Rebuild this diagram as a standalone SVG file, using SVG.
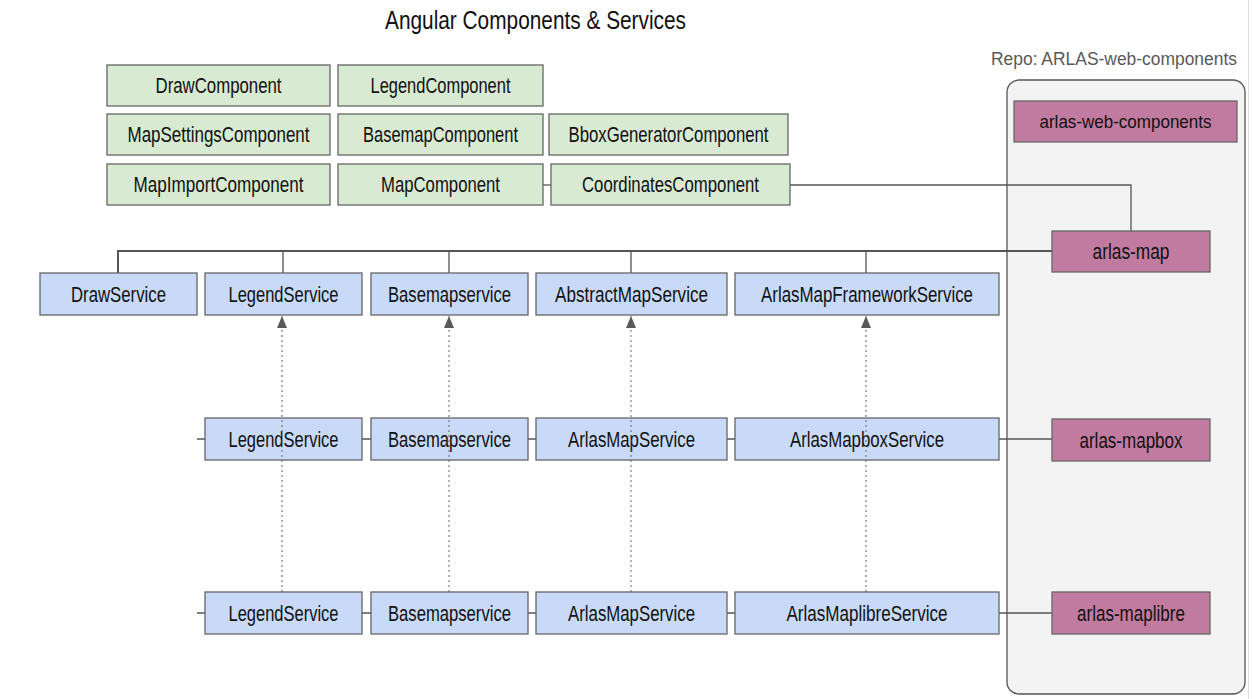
<svg xmlns="http://www.w3.org/2000/svg" width="1252" height="699" viewBox="0 0 1252 699">
<defs>
<style>
text{font-family:"Liberation Sans","Roboto",sans-serif;text-anchor:middle;dominant-baseline:central;fill:#111;font-size:22px}
.g rect{fill:#d9ead3;stroke:#666;stroke-width:1.3}
.b rect{fill:#c9daf8;stroke:#666;stroke-width:1.3}
.p rect{fill:#c27ba0;stroke:#666;stroke-width:1.3}
.ln{fill:none;stroke:#555;stroke-width:1.3}
.dot{fill:none;stroke:#666;stroke-width:1;stroke-dasharray:2,3}
</style>
<marker id="ah" viewBox="0 0 12 10" refX="12" refY="5" markerWidth="12" markerHeight="10" markerUnits="userSpaceOnUse" orient="auto">
<path d="M0,0 L12,5 L0,10 Z" fill="#595959"/>
</marker>
</defs>
<rect width="1252" height="699" fill="#fff"/>
<line x1="1248.5" y1="0" x2="1248.5" y2="699" stroke="#ddd" stroke-width="1"/>
<text x="535.5" y="20" style="font-size:26px" textLength="301" lengthAdjust="spacingAndGlyphs">Angular Components &amp; Services</text>

<g id="repo">
<rect x="1007" y="80" width="238" height="614" rx="12" fill="#f3f3f3" stroke="#555" stroke-width="1.3"/>
<text x="1114" y="59" style="fill:#595959;font-size:18px" textLength="246" lengthAdjust="spacingAndGlyphs">Repo: ARLAS-web-components</text>
</g>

<g id="connectors">
<path class="ln" d="M790,185 H1131 V231"/>
<path class="ln" d="M543,185 H551"/>
<path class="ln" d="M118,273 V251 H1052" style="stroke-width:2"/>
<path class="ln" d="M283,251 V273 M449,251 V273 M631,251 V273 M866,251 V273"/>
<path class="ln" d="M197,439 H205 M362,439 H371 M528,439 H536 M727,439 H735 M999,439 H1052"/>
<path class="ln" d="M197,613 H205 M362,613 H371 M528,613 H536 M727,613 H735 M999,613 H1052"/>
</g>

<g class="g">
<g id="drawComponent"><rect x="107" y="65" width="223" height="41"/><text x="218.5" y="85.5" textLength="126" lengthAdjust="spacingAndGlyphs">DrawComponent</text></g>
<g id="legendComponent"><rect x="338" y="65" width="205" height="41"/><text x="440.5" y="85.5" textLength="140" lengthAdjust="spacingAndGlyphs">LegendComponent</text></g>
<g id="mapSettingsComponent"><rect x="107" y="114" width="223" height="41"/><text x="218.5" y="134.5" textLength="182" lengthAdjust="spacingAndGlyphs">MapSettingsComponent</text></g>
<g id="basemapComponent"><rect x="338" y="114" width="205" height="41"/><text x="440.5" y="134.5" textLength="155" lengthAdjust="spacingAndGlyphs">BasemapComponent</text></g>
<g id="bboxGeneratorComponent"><rect x="549" y="114" width="239" height="41"/><text x="668.5" y="134.5" textLength="200" lengthAdjust="spacingAndGlyphs">BboxGeneratorComponent</text></g>
<g id="mapImportComponent"><rect x="107" y="164" width="223" height="41"/><text x="218.5" y="184.5" textLength="170" lengthAdjust="spacingAndGlyphs">MapImportComponent</text></g>
<g id="mapComponent"><rect x="338" y="164" width="205" height="41"/><text x="440.5" y="184.5" textLength="119" lengthAdjust="spacingAndGlyphs">MapComponent</text></g>
<g id="coordinatesComponent"><rect x="551" y="164" width="239" height="41"/><text x="670.5" y="184.5" textLength="177" lengthAdjust="spacingAndGlyphs">CoordinatesComponent</text></g>
</g>

<g class="p">
<g id="arlasWebComponents"><rect x="1014" y="101" width="223" height="41"/><text x="1125.5" y="121.5" style="font-size:19px" textLength="172" lengthAdjust="spacingAndGlyphs">arlas-web-components</text></g>
<g id="arlasMap"><rect x="1052" y="231" width="158" height="41"/><text x="1131" y="251.5" textLength="77" lengthAdjust="spacingAndGlyphs">arlas-map</text></g>
<g id="arlasMapbox"><rect x="1052" y="419" width="158" height="42"/><text x="1131" y="440" textLength="103" lengthAdjust="spacingAndGlyphs">arlas-mapbox</text></g>
<g id="arlasMaplibre"><rect x="1052" y="592" width="158" height="42"/><text x="1131" y="613" textLength="108" lengthAdjust="spacingAndGlyphs">arlas-maplibre</text></g>
</g>

<g class="b">
<g id="drawService"><rect x="40" y="273" width="157" height="42"/><text x="118.5" y="294" textLength="95" lengthAdjust="spacingAndGlyphs">DrawService</text></g>
<g id="legendService"><rect x="205" y="273" width="157" height="42"/><text x="283.5" y="294" textLength="110" lengthAdjust="spacingAndGlyphs">LegendService</text></g>
<g id="basemapService"><rect x="371" y="273" width="157" height="42"/><text x="449.5" y="294" textLength="123" lengthAdjust="spacingAndGlyphs">Basemapservice</text></g>
<g id="abstractMapService"><rect x="536" y="273" width="191" height="42"/><text x="631.5" y="294" textLength="153" lengthAdjust="spacingAndGlyphs">AbstractMapService</text></g>
<g id="arlasMapFrameworkService"><rect x="735" y="273" width="264" height="42"/><text x="867" y="294" textLength="212" lengthAdjust="spacingAndGlyphs">ArlasMapFrameworkService</text></g>

<g id="legendServiceMapbox"><rect x="205" y="418" width="157" height="42"/><text x="283.5" y="439" textLength="110" lengthAdjust="spacingAndGlyphs">LegendService</text></g>
<g id="basemapServiceMapbox"><rect x="371" y="418" width="157" height="42"/><text x="449.5" y="439" textLength="123" lengthAdjust="spacingAndGlyphs">Basemapservice</text></g>
<g id="arlasMapServiceMapbox"><rect x="536" y="418" width="191" height="42"/><text x="631.5" y="439" textLength="127" lengthAdjust="spacingAndGlyphs">ArlasMapService</text></g>
<g id="arlasMapboxService"><rect x="735" y="418" width="264" height="42"/><text x="867" y="439" textLength="154" lengthAdjust="spacingAndGlyphs">ArlasMapboxService</text></g>

<g id="legendServiceMaplibre"><rect x="205" y="592" width="157" height="42"/><text x="283.5" y="613" textLength="110" lengthAdjust="spacingAndGlyphs">LegendService</text></g>
<g id="basemapServiceMaplibre"><rect x="371" y="592" width="157" height="42"/><text x="449.5" y="613" textLength="123" lengthAdjust="spacingAndGlyphs">Basemapservice</text></g>
<g id="arlasMapServiceMaplibre"><rect x="536" y="592" width="191" height="42"/><text x="631.5" y="613" textLength="127" lengthAdjust="spacingAndGlyphs">ArlasMapService</text></g>
<g id="arlasMaplibreService"><rect x="735" y="592" width="264" height="42"/><text x="867" y="613" textLength="161" lengthAdjust="spacingAndGlyphs">ArlasMaplibreService</text></g>
</g>

<g id="inheritance">
<path class="dot" d="M282,592 V316" marker-end="url(#ah)"/>
<path class="dot" d="M449,592 V316" marker-end="url(#ah)"/>
<path class="dot" d="M631,592 V316" marker-end="url(#ah)"/>
<path class="dot" d="M866,592 V316" marker-end="url(#ah)"/>
</g>
</svg>
